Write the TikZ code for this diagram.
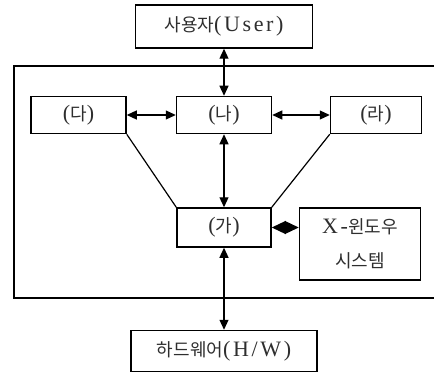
\documentclass[tikz,border=0pt]{standalone}
\usepackage{fontspec}
\setmainfont{Liberation Serif}[LetterSpace=12]
\newfontfamily\kr{Noto Sans CJK KR}
\newcommand{\hg}[1]{{\fontsize{18}{34}\selectfont\kr #1}}
\usetikzlibrary{arrows.meta, positioning}
\definecolor{textGray}{HTML}{2E2E2E}
\tikzset{
    box/.style={
        draw,
        rectangle,
        line width=1.5pt,
        inner sep=0pt,
        minimum width=95pt,
        minimum height=37pt,
        text=textGray,
        font=\fontsize{22}{34}\selectfont,
        align=center
    },
    frame/.style={
        draw,
        line width=1.5pt
    },
    arrow_both/.style={
        {Triangle[length=10pt, width=9pt]}-{Triangle[length=10pt, width=9pt]},
        line width=1.2pt
    },
    arrow_diamond/.style={
        {Triangle[length=14pt, width=13pt]}-{Triangle[length=14pt, width=13pt]},
        line width=1.2pt
    },
    link/.style={
        line width=1.2pt
    }
}

\begin{document}
\begin{tikzpicture}[x=1pt, y=1pt]

\useasboundingbox (0,0) rectangle (434,373);

% ====== OUTER FRAME ======
\draw[frame] (14,75) rectangle (445,307);

% ====== MIDDLE ROW ======
\node[box] (na) at (224,258) {(\hg{나})};
\node[box, left=49pt of na] (da) {(\hg{다})};
\node[box, right=57.5pt of na, minimum width=91pt] (ra) {(\hg{라})};

% ====== TOP & BOTTOM ======
\node[box, above=47pt of na, minimum width=177pt, minimum height=43pt] (user) {\hg{사용자}(User)};
\node[box, below=73pt of na, minimum width=94pt, minimum height=39pt] (ga) {(\hg{가})};
\node[box, below=82pt of ga, minimum width=186pt, minimum height=41pt] (hw) {\hg{하드웨어}(H/W)};

% X window box
\node[box, right=27pt of ga.north east, anchor=north west, minimum width=121pt, minimum height=72pt] (xwin) {X-\hg{윈도우}\\\hg{시스템}};

% --- arrows ---
\draw[arrow_both] (user) -- (na);
\draw[arrow_both] (da) -- (na);
\draw[arrow_both] (na) -- (ra);
\draw[arrow_both] (na) -- (ga);
\draw[arrow_both] (ga) -- (hw);
\draw[arrow_diamond] (ga.east) -- (ga.east -| xwin.west);

% --- slanted links ---
\draw[link] (da.south east) -- (ga.north west);
\draw[link] (ra.south west) -- (ga.north east);

\end{tikzpicture}
\end{document}
